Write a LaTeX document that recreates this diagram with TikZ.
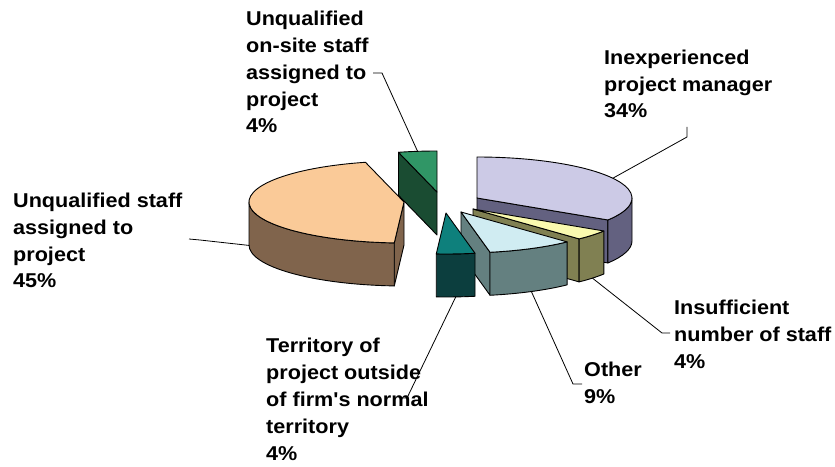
\documentclass[tikz,border=0pt]{standalone}
\usepackage{fontspec}
\newfontfamily\lblfont{Liberation Sans}[FakeStretch=1.08]
\usetikzlibrary{calc}
\definecolor{greenTop}{RGB}{48,150,102}
\definecolor{greenSide}{RGB}{26,76,50}
\definecolor{purpleTop}{RGB}{204,202,230}
\definecolor{purpleSide}{RGB}{99,97,128}
\definecolor{orangeTop}{RGB}{250,202,152}
\definecolor{orangeSide}{RGB}{128,100,76}
\definecolor{yellowTop}{RGB}{250,250,175}
\definecolor{yellowSide}{RGB}{128,128,82}
\definecolor{blueTop}{RGB}{208,236,242}
\definecolor{blueSide}{RGB}{100,128,128}
\definecolor{tealTop}{RGB}{14,128,124}
\definecolor{tealSide}{RGB}{12,62,62}
\newcommand\pieradial[3]{\draw[face, fill=#3] (#1) -- ($(#1)+(#2:155pt and 41pt)$) -- ++(0,-43) -- ($(#1)+(0,-43)$) -- cycle;}
\newcommand\pieside[4]{\draw[face, fill=#4] ($(#1)+(#2:155pt and 41pt)$) arc[pie arc, start angle=#2, end angle=#3] -- ++(0,-43) arc[pie arc, start angle=#3, end angle=#2] -- cycle;}
\newcommand\pietop[4]{\draw[face, fill=#4] (#1) -- ($(#1)+(#2:155pt and 41pt)$) arc[pie arc, start angle=#2, end angle=#3] -- cycle;}
\begin{document}
\begin{tikzpicture}[x=1pt,y=1pt,
  face/.style={draw=black, line width=0.9pt, line join=round},
  pie arc/.style={x radius=155pt, y radius=41pt},
  leader/.style={draw=black, line width=0.8pt},
  lbl/.style={font=\lblfont\bfseries\fontsize{20}{26.8}\selectfont, align=left, inner sep=0pt, anchor=base west}]
\useasboundingbox (0,0) rectangle (835,466);
% slice centres (top face)
\coordinate (G) at (437,274);
\coordinate (P) at (477,268);
\coordinate (O) at (404,264);
\coordinate (Y) at (473,257);
\coordinate (L) at (461,254);
\coordinate (T) at (446,253);
% green: unqualified on-site staff
\pieradial{G}{104.4}{greenSide}
\pietop{G}{90}{104.4}{greenTop}
% purple: inexperienced project manager
\pieradial{P}{-32.4}{purpleSide}
\pieside{P}{-32.4}{0}{purpleSide}
\pietop{P}{-32.4}{90}{purpleTop}
% orange: unqualified staff
\pieradial{O}{266.4}{orangeSide}
\pieside{O}{180}{266.4}{orangeSide}
\pietop{O}{104.4}{266.4}{orangeTop}
% yellow: insufficient number of staff
\pieradial{Y}{-46.8}{yellowSide}
\pieside{Y}{-46.8}{-32.4}{yellowSide}
\pietop{Y}{-46.8}{-32.4}{yellowTop}
% light blue: other
\pieradial{L}{-79.2}{blueSide}
\pieside{L}{-79.2}{-46.8}{blueSide}
\pietop{L}{-79.2}{-46.8}{blueTop}
% teal: territory
\pieside{T}{-93.6}{-79.2}{tealSide}
\pietop{T}{-93.6}{-79.2}{tealTop}
% leader end points on slices
\coordinate (gEnd) at ($(G)+(97.2:155pt and 41pt)$);
\coordinate (pEnd) at ($(P)+(28.8:155pt and 41pt)$);
\coordinate (oEnd) at ($(O)+(0,-43)+(180.6:155pt and 41pt)$);
\coordinate (yEnd) at ($(Y)+(0,-43)+(-39.6:155pt and 41pt)$);
\coordinate (lEnd) at ($(L)+(0,-43)+(-63:155pt and 41pt)$);
\coordinate (tEnd) at ($(T)+(0,-43)+(-86.4:155pt and 41pt)$);
% labels (anchored at the baseline of their last line)
\node[lbl] (lO) at (13,178) {Unqualified staff\\assigned to\\project\\45\%};
\node[lbl] (lG) at (246,333) {Unqualified\\on-site staff\\assigned to\\project\\4\%};
\node[lbl] (lP) at (604,348) {Inexperienced\\project manager\\34\%};
\node[lbl] (lY) at (674,98) {Insufficient\\number of staff\\4\%};
\node[lbl] (lL) at (584,63) {Other\\9\%};
\node[lbl] (lT) at (266,6) {Territory of\\project outside\\of firm's normal\\territory\\4\%};
% leader bends
\coordinate (oA) at (189,227); \coordinate (oB) at (200,226);
\coordinate (gA) at (373,393); \coordinate (gB) at (382,393);
\coordinate (pA) at (687,339); \coordinate (pB) at (687,329);
\coordinate (yA) at (670,133); \coordinate (yB) at (662,133);
\coordinate (lA) at (582,82);  \coordinate (lB) at (573,82);
\coordinate (tA) at (400,68);  \coordinate (tB) at (407,68);
\draw[leader] (oA) -- (oB) -- (oEnd);
\draw[leader] (gA) -- (gB) -- (gEnd);
\draw[leader] (pA) -- (pB) -- (pEnd);
\draw[leader] (yA) -- (yB) -- (yEnd);
\draw[leader] (lA) -- (lB) -- (lEnd);
\draw[leader] (tA) -- (tB) -- (tEnd);
\end{tikzpicture}
\end{document}
